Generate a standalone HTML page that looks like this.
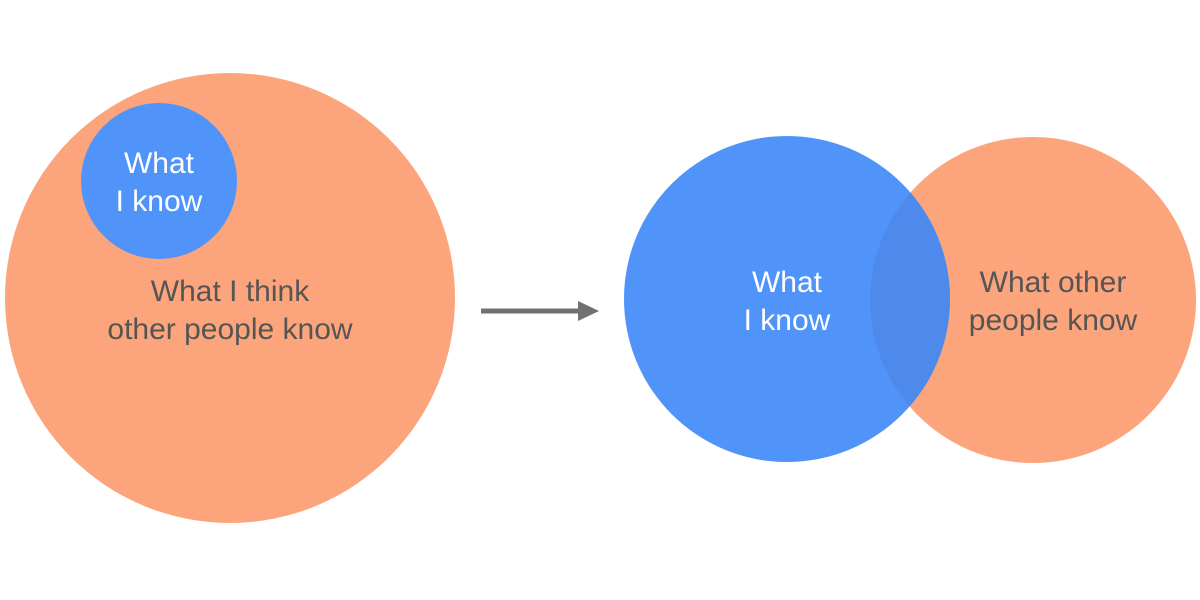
<!DOCTYPE html>
<html><head><meta charset="utf-8"><style>
html,body{margin:0;padding:0;background:#fff;}
svg{display:block;}
text{font-family:"Liberation Sans",sans-serif;font-size:30px;}
</style></head><body>
<svg width="1200" height="600" viewBox="0 0 1200 600">
<circle cx="230" cy="298" r="225" fill="#FCA47C"/>
<circle cx="159" cy="181" r="78" fill="#5094FA"/>
<text x="159" y="173" fill="#fff" text-anchor="middle">What</text>
<text x="159" y="211" fill="#fff" text-anchor="middle">I know</text>
<text x="230" y="301" fill="#555" text-anchor="middle">What I think</text>
<text x="230" y="339" fill="#555" text-anchor="middle">other people know</text>
<line x1="481" y1="311" x2="582" y2="311" stroke="#6f7270" stroke-width="5"/>
<polygon points="578,301 599,311 578,321" fill="#6f7270"/>
<circle cx="1033" cy="300" r="163" fill="#FCA47C"/>
<circle cx="787" cy="299" r="163" fill="#5094FA"/>
<clipPath id="c"><circle cx="1033" cy="300" r="163"/></clipPath>
<circle cx="787" cy="299" r="163" fill="#4E89EC" clip-path="url(#c)"/>
<text x="787" y="292" fill="#fff" text-anchor="middle">What</text>
<text x="787" y="330" fill="#fff" text-anchor="middle">I know</text>
<text x="1053" y="292" fill="#555" text-anchor="middle">What other</text>
<text x="1053" y="330" fill="#555" text-anchor="middle">people know</text>
</svg>
</body></html>
